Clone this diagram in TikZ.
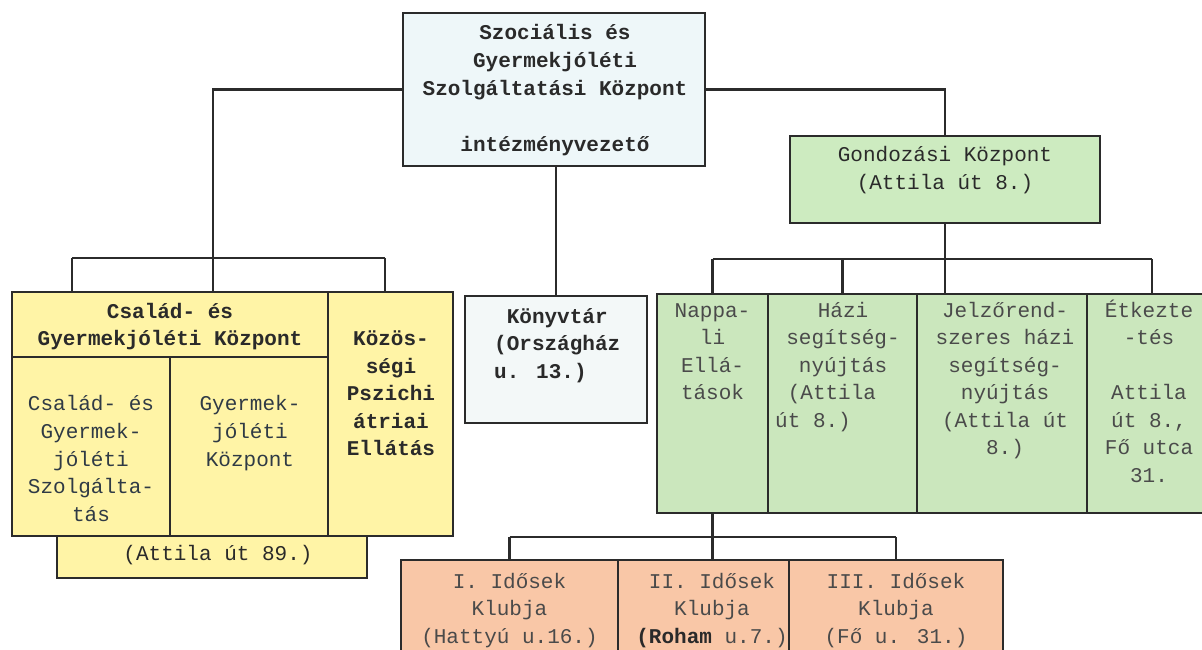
\documentclass[tikz,border=0pt]{standalone}
\usepackage{fontspec}
\newfontfamily\cour{Liberation Mono}
\usetikzlibrary{calc}
\definecolor{ln}{HTML}{2B2B2B}
\definecolor{tx}{HTML}{2A2A2A}
\definecolor{txg}{HTML}{4A4A4A}
\definecolor{txb}{HTML}{2F3A45}
\definecolor{topf}{HTML}{EEF7F9}
\definecolor{konf}{HTML}{F3F8F8}
\definecolor{yel}{HTML}{FFF4A6}
\definecolor{grn}{HTML}{CBE7BD}
\definecolor{gondf}{HTML}{CDEBC0}
\definecolor{org}{HTML}{F9C7A7}
\tikzset{
  bx/.style={draw=ln, line width=2.3pt, inner sep=0pt, outer sep=0pt, anchor=north west},
  cn/.style={draw=ln, line width=2.3pt},
  txt/.style={font=\cour\fontsize{21}{27.5}\selectfont, text=tx, inner sep=0pt, align=center, anchor=north},
  txtb/.style={txt, font=\cour\bfseries\fontsize{21}{27.5}\selectfont},
}
\newcommand\mybox[6]{\node[bx, fill=#6, minimum width=#4pt, minimum height=#5pt] (#1) at (#2,#3) {};}
\begin{document}
\begin{tikzpicture}[x=1pt,y=-1pt]
\useasboundingbox (0,0) rectangle (1202,650);
\clip (0,0) rectangle (1202,650);
\fill[white] (0,0) rectangle (1202,650);
% boxes
\mybox{top}{403}{13}{302}{153}{topf}
\mybox{gond}{790}{136}{310}{87}{gondf}
\mybox{konyv}{465}{296}{182}{127}{konf}
\mybox{csal}{12}{292}{316}{65}{yel}
\mybox{csl}{12}{357}{158}{179}{yel}
\mybox{gyk}{170}{357}{158}{179}{yel}
\mybox{kozos}{328}{292}{125}{244}{yel}
\mybox{att}{57}{536}{310}{42}{yel}
\mybox{napp}{657}{294}{111}{219}{grn}
\mybox{hazi}{768}{294}{149}{219}{grn}
\mybox{jelzo}{917}{294}{170}{219}{grn}
\mybox{etk}{1087}{294}{130}{219}{grn}
\mybox{o1}{401}{560}{217}{100}{org}
\mybox{o2}{618}{560}{171}{100}{org}
\mybox{o3}{789}{560}{214}{100}{org}
% connectors
\coordinate (lb) at (213,258);
\coordinate (lbL) at (72,258);
\coordinate (lbR) at (385,258);
\draw[cn] (top.west) -| (lb);
\draw[cn] (lbL) -- (lbR);
\draw[cn] (lbL) -- (lbL |- csal.north);
\draw[cn] (lb) -- (lb |- csal.north);
\draw[cn] (lbR) -- (lbR |- kozos.north);
\draw[cn] (konyv.north |- top.south) -- (konyv.north);
\draw[cn] (top.east) -| (gond.north);
\coordinate (gb) at (0,259);
\draw[cn] (gond.south) -- (gond.south |- jelzo.north);
\draw[cn] (napp.north |- gb) -- (etk.north |- gb);
\draw[cn] (napp.north |- gb) -- (napp.north);
\draw[cn] (hazi.north |- gb) -- (hazi.north);
\draw[cn] (etk.north |- gb) -- (etk.north);
\coordinate (ob) at (0,537);
\draw[cn] (napp.south) -- (napp.south |- o2.north);
\draw[cn] (o1.north |- ob) -- (o3.north |- ob);
\draw[cn] (o1.north |- ob) -- (o1.north);
\draw[cn] (o3.north |- ob) -- (o3.north);
% texts
\node[txtb, font=\cour\bfseries\fontsize{21}{28}\selectfont] (ttop) at (555,20) {\strut Szociális és\\Gyermekjóléti\\Szolgáltatási Központ\\\strut\\intézményvezető};
\node[txt, font=\cour\fontsize{21}{28}\selectfont] (tgond) at (945,142) {\strut Gondozási Központ\\(Attila út 8.)};
\node[txtb, align=left, anchor=north west] (tkonyv) at (494,304) {\strut\hphantom{(}Könyvtár\\(Országház\\u. 13.)};
\node[txtb, font=\cour\bfseries\fontsize{21}{27}\selectfont] (tcsal) at (170,299) {\strut Család- és\\Gyermekjóléti Központ};
\node[txt, text=txb, font=\cour\fontsize{21}{27.75}\selectfont] (tcsl) at (91,391) {\strut Család- és\\Gyermek-\\jóléti\\Szolgálta-\\tás};
\node[txt, text=txb, font=\cour\fontsize{21}{27.75}\selectfont] (tgyk) at (250,391) {\strut Gyermek-\\jóléti\\Központ};
\node[txtb, font=\cour\bfseries\fontsize{21}{27.6}\selectfont] (tkozos) at (391,326) {\strut Közös-\\ségi\\Pszichi\\átriai\\Ellátás};
\node[txt] (tatt) at (218,541) {\strut(Attila út 89.)};
\node[txt, text=txg] (tnapp) at (712.5,298) {\strut Nappa-\\li\\Ellá-\\tások};
\node[txt, text=txg] (thazi) at (843,298) {\strut Házi\\segítség-\\nyújtás};
\node[txt, text=txg, align=left, anchor=north west] (thazi2) at (775,380.5) {\strut\hphantom{x}(Attila\\út 8.)};
\node[txt, text=txg] (tjelzo) at (1005,298) {\strut Jelzőrend-\\szeres házi\\segítség-\\nyújtás\\(Attila út\\8.)};
\node[txt, text=txg] (tetk) at (1149,298) {\strut Étkezte\\-tés\\\strut\\Attila\\út 8.,\\Fő utca\\31.};
\node[txt, text=txg] (to1) at (509.5,569) {\strut I. Idősek\\Klubja\\(Hattyú u.16.)};
\node[txt, text=txg] (to2) at (712,569) {\strut II. Idősek\\Klubja\\{\bfseries\color{tx}(Roham} u.7.)};
\node[txt, text=txg] (to3) at (896,569) {\strut III. Idősek\\Klubja\\(Fő u. 31.)};
\end{tikzpicture}
\end{document}
